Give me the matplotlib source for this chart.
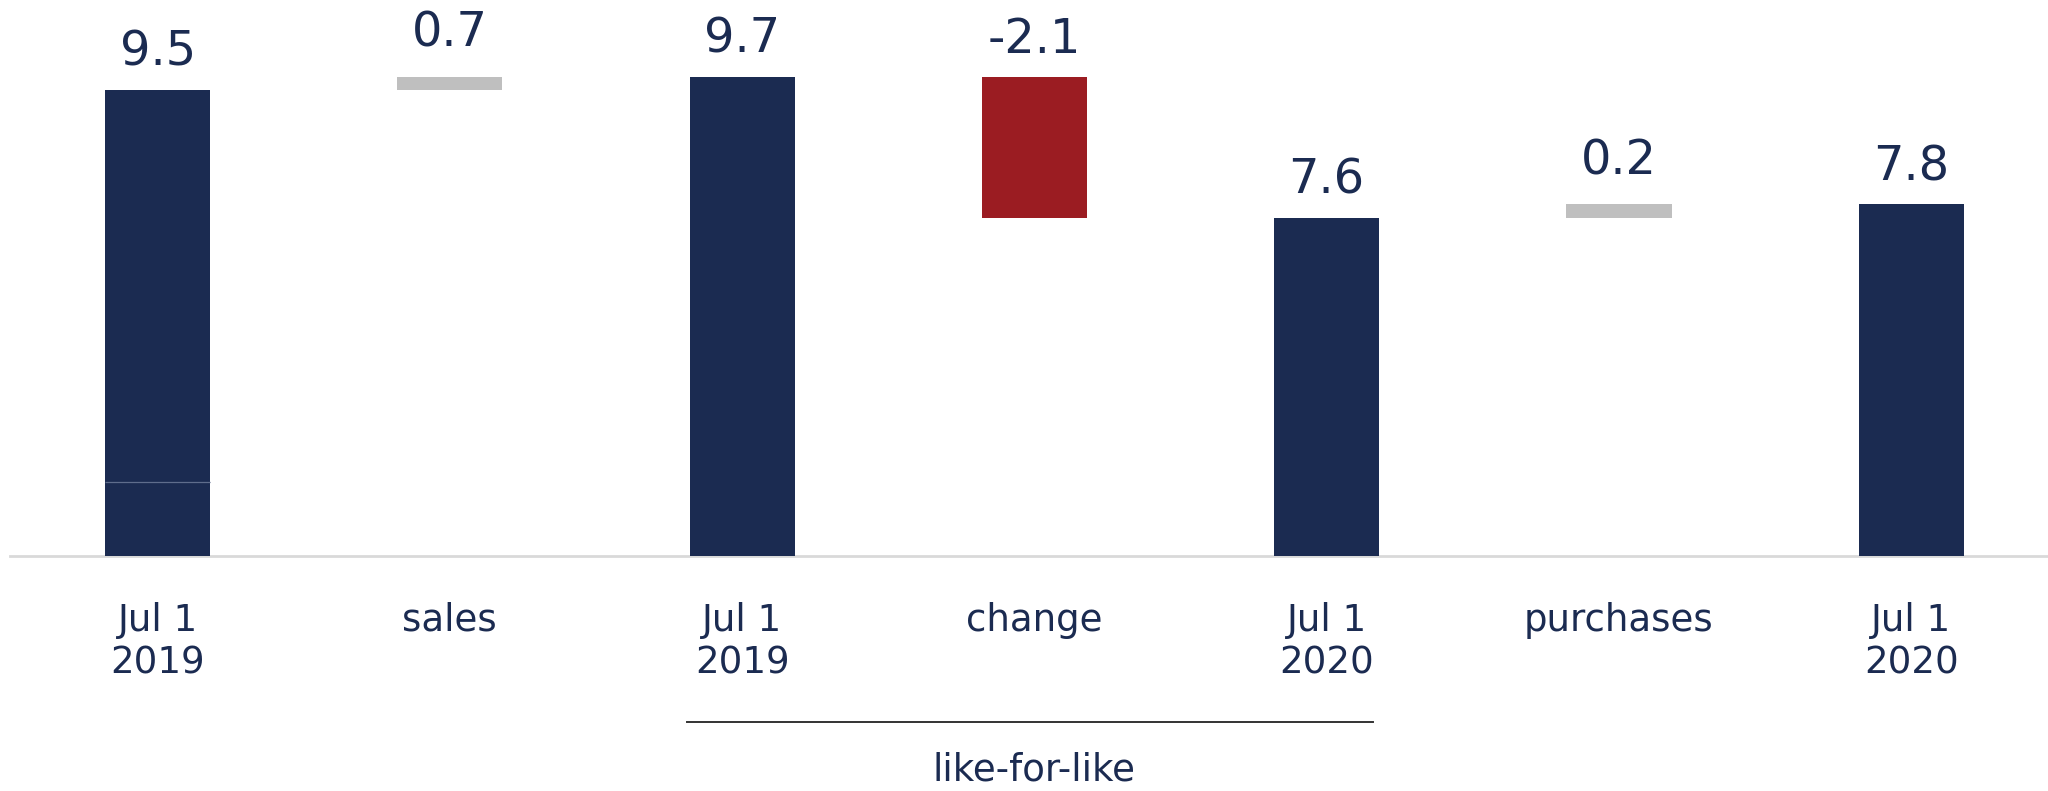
import matplotlib
matplotlib.use("Agg")
import matplotlib.pyplot as plt

# Bridge of values between the 2019 and 2020 reference dates
categories = ["Jul 1\n2019", "sales", "Jul 1\n2019", "change", "Jul 1\n2020", "purchases", "Jul 1\n2020"]
kinds = ["total", "bridge", "total", "delta", "total", "bridge", "total"]
values = [9.5, 0.7, 9.7, -2.1, 7.6, 0.2, 7.8]
opening_split = 3.66          # inner segment boundary of the first total
group_label = "like-for-like"
group_span = (2, 4)           # categories covered by the like-for-like bracket

NAVY = "#1b2b51"
RED = "#9b1c22"
GREY = "#bfbfbf"
AXIS = "#d9d9d9"

fig = plt.figure(figsize=(20.48, 7.91), dpi=100)
ax = fig.add_axes([10 / 2048, 235 / 791, 2038 / 2048, 556 / 791])
ax.set_xlim(-0.505, 6.468)
ax.set_ylim(2.558, 10.84)

width = 0.36
x = list(range(len(categories)))

for i, (kind, v) in enumerate(zip(kinds, values)):
    if kind == "total":
        ax.bar(i, v, width=width, bottom=0, color=NAVY, zorder=3)
        top = v
        off = 24
    elif kind == "delta":
        prev = values[i - 1]
        ax.bar(i, v, width=width, bottom=prev, color=RED, zorder=3)
        top = max(prev, prev + v)
        off = 24
    else:
        prev, nxt = values[i - 1], values[i + 1]
        lo, hi = min(prev, nxt), max(prev, nxt)
        ax.bar(i, hi - lo, width=width, bottom=lo, color=GREY, zorder=3)
        top = hi
        off = 30
    ax.annotate(f"{v:.1f}", xy=(i, top), xytext=(0, off * 0.72),
                textcoords="offset points", ha="center", va="baseline",
                fontsize=34.5, color=NAVY, annotation_clip=False)

# faint segment boundary inside the first bar
ax.hlines(opening_split, -width / 2, width / 2, colors="#5f6d8c", linewidth=0.9, zorder=4)

for s in ["top", "right", "left"]:
    ax.spines[s].set_visible(False)
ax.spines["bottom"].set_color(AXIS)
ax.spines["bottom"].set_linewidth(2.0)
ax.set_yticks([])
ax.set_xticks(x)
ax.set_xticklabels(categories, fontsize=26.7, color=NAVY, linespacing=1.2)
ax.tick_params(axis="x", length=0, pad=33)

# bracket under the like-for-like categories
trans = ax.get_xaxis_transform()
x0 = group_span[0] - width / 2 - 0.01
x1 = group_span[1] + width / 2 - 0.02
ax.plot([x0, x1], [-0.2986, -0.2986], transform=trans, color="#333333",
        linewidth=1.4, clip_on=False)
ax.text((group_span[0] + group_span[1]) / 2, -0.403, group_label, transform=trans,
        ha="center", va="baseline", fontsize=26.7, color=NAVY)

fig.savefig("out.png", dpi=100)
